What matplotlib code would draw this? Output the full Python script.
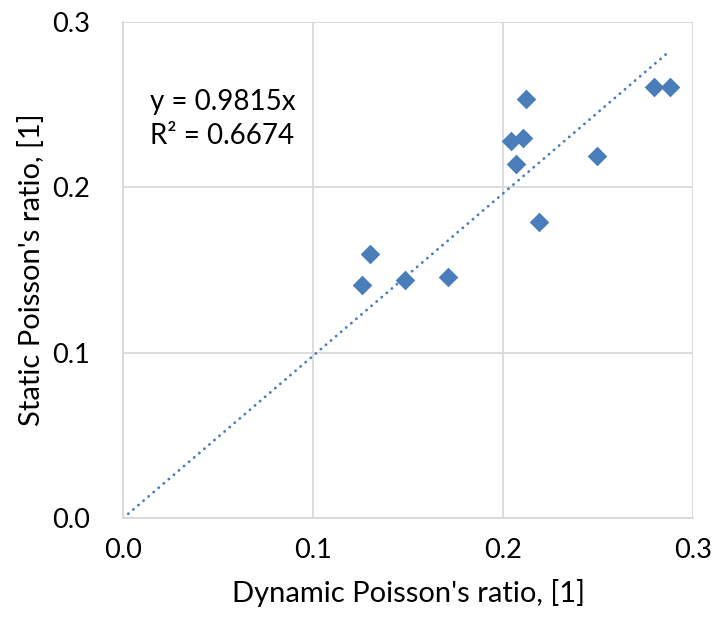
import numpy as np
import matplotlib.pyplot as plt

# dynamic vs static Poisson's ratio
dynamic = [0.1255, 0.1298, 0.1483, 0.1711, 0.2041, 0.2070, 0.2107, 0.2118,
           0.2190, 0.2495, 0.2793, 0.2881]
static = [0.1407, 0.1597, 0.1442, 0.1456, 0.2282, 0.2143, 0.2299, 0.2531,
          0.1788, 0.2192, 0.2607, 0.2607]
slope = 0.9815
r2 = 0.6674
ticks = [0.0, 0.1, 0.2, 0.3]

plt.rcParams['font.family'] = ['Lato', 'DejaVu Sans']
blue = '#4a7ebb'
grid = '#d9d9d9'

fig = plt.figure(figsize=(7.16, 6.25), dpi=100)
ax = fig.add_axes([0.172, 0.171, 0.796, 0.794])

ax.scatter(dynamic, static, marker='D', s=10**2, color=blue, linewidths=0, zorder=3)

# linear trendline through origin
xt = np.array([0, max(dynamic)])
ax.plot(xt, slope * xt, color=blue, lw=2.0, linestyle=(0, (0.1, 2.3)),
        dash_capstyle='round', zorder=2)

ax.text(0.0142, 0.2517, 'y = %.4fx' % slope, fontsize=20, va='center', ha='left')
ax.text(0.0142, 0.2310, 'R² = %.4f' % r2, fontsize=20, va='center', ha='left')

ax.set_xlim(0, 0.3)
ax.set_ylim(0, 0.3)
ax.set_xticks(ticks)
ax.set_yticks(ticks)
ax.set_xticklabels(['%.1f' % t for t in ticks])
ax.set_yticklabels(['%.1f' % t for t in ticks])
ax.tick_params(axis='both', length=0, labelsize=19.5)
ax.tick_params(axis='x', pad=14)
ax.tick_params(axis='y', pad=24)
ax.grid(True, color=grid, lw=1.3)
ax.set_axisbelow(True)
for s in ['top', 'right']:
    ax.spines[s].set_visible(False)
for s in ['left', 'bottom']:
    ax.spines[s].set_color(grid)
    ax.spines[s].set_linewidth(1.3)

ax.set_xlabel("Dynamic Poisson's ratio, [1]", fontsize=21, labelpad=12)
ax.set_ylabel("Static Poisson's ratio, [1]", fontsize=21, labelpad=5)

fig.savefig('out.png', dpi=100)
